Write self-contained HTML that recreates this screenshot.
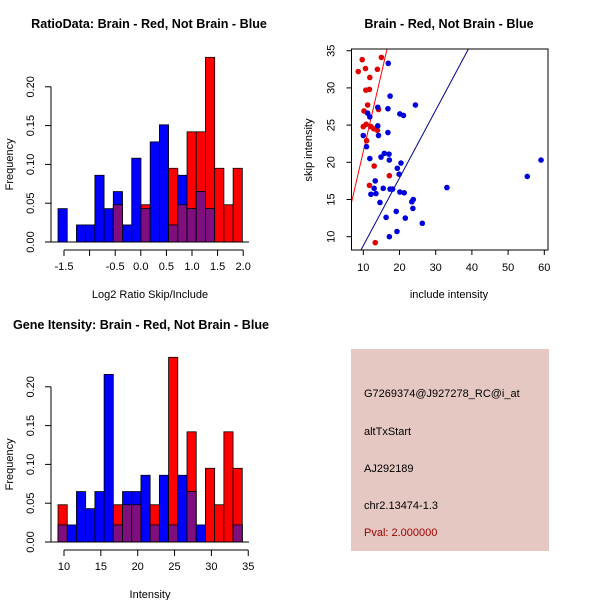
<!DOCTYPE html>
<html><head><meta charset="utf-8"><style>
body{margin:0;background:#fff}
svg{display:block;font-family:"Liberation Sans",Arial,sans-serif}
</style></head><body>
<svg id="s" width="600" height="600" viewBox="0 0 600 600" xmlns="http://www.w3.org/2000/svg">
<rect width="600" height="600" fill="#fff"/>
<text x="149" y="28" text-anchor="middle" font-size="12.6" font-weight="bold">RatioData: Brain - Red, Not Brain - Blue</text>
<text x="449" y="28" text-anchor="middle" font-size="12.6" font-weight="bold">Brain - Red, Not Brain - Blue</text>
<text x="141" y="329" text-anchor="middle" font-size="12.6" font-weight="bold">Gene Itensity: Brain - Red, Not Brain - Blue</text>
<g>
<rect x="351" y="349" width="198" height="202" fill="#e5c8c2"/>
<text x="364" y="397" font-size="11">G7269374@J927278_RC@i_at</text>
<text x="364" y="435" font-size="11">altTxStart</text>
<text x="364" y="472" font-size="11">AJ292189</text>
<text x="364" y="509" font-size="11">chr2.13474-1.3</text>
<text x="364" y="536" font-size="11" fill="#a00000">Pval: 2.000000</text>
</g>
</svg>
<script>
// Ratio histogram data
const ratioBlue=[.043,0,.022,.022,.086,.043,.065,.022,.108,.043,.129,.151,.022,.086,.043,.065,.043,0,0,0];
const ratioRed=[0,0,0,0,0,0,.048,0,0,.048,0,0,.095,.048,.142,.142,.238,.095,.048,.095];
const ratioBreakStart=-1.617, ratioBinWidth=0.18;
const ratioTicks=[-1.5,-1.0,-0.5,0,0.5,1.0,1.5,2.0];
const ratioTickLabels=["-1.5","","-0.5","0.0","0.5","1.0","1.5","2.0"];
// Intensity histogram data
const intBlue=[.022,.022,.065,.043,.065,.216,.022,.065,.065,.086,.022,.086,.022,.086,.065,.022,0,0,0,.022];
const intRed=[.048,0,0,0,0,0,.048,.048,.048,0,.048,0,.238,0,.142,0,.095,.048,.142,.095];
const intBreakStart=9.19, intBinWidth=1.25;
const intTicks=[10,15,20,25,30,35];
const freqTicks=[0,0.05,0.10,0.15,0.20];
const freqTickLabels=["0.00","0.05","0.10","0.15","0.20"];
// Scatter data
const redX=[9.7,8.6,10.6,15.0,11.8,13.9,10.7,11.7,11.2,10.2,14.2,10.8,10.0,12.1,12.9,13.9,10.9,13.0,11.7,17.2,13.3];
const redY=[33.8,32.2,32.6,34.1,31.4,32.5,29.7,29.8,27.7,26.9,27.1,25.1,24.8,24.8,24.5,24.3,22.9,19.5,16.9,18.2,9.2];
const blueX=[16.9,17.4,24.4,16.8,14.0,20.1,21.1,11.2,11.8,14.0,16.8,10.0,14.2,10.9,11.8,14.9,15.8,17.1,17.2,20.4,19.4,19.9,13.3,15.5,13.0,17.4,18.1,12.1,13.5,20.1,21.3,33.1,14.6,23.8,23.4,23.7,19.1,16.3,21.6,26.3,19.3,17.2,55.3,59.1];
const blueY=[33.3,28.9,27.7,27.2,27.4,26.5,26.3,26.6,26.1,24.9,24.0,23.6,23.6,22.1,20.5,20.7,21.2,21.1,20.3,19.9,19.2,18.4,17.5,16.5,16.5,16.4,16.4,15.7,15.8,16.0,15.9,16.6,14.6,15.0,14.7,13.8,13.4,12.6,12.5,11.8,10.7,10.0,18.1,20.3];
const redFit=[0.45,2.1], blueFit=[-0.3,0.91];
const scXTicks=[10,20,30,40,50,60], scYTicks=[10,15,20,25,30,35];

const svg=document.getElementById('s');
const NS='http://www.w3.org/2000/svg';
function mk(tag,attrs,parent){const e=document.createElementNS(NS,tag);for(const k in attrs)e.setAttribute(k,attrs[k]);(parent||svg).appendChild(e);return e;}

function hist(blue,red,start,bw,xTicks,xLabels,xFn,y0,xTitle,name){
  const g=mk('g',{});
  
  
  const yFn=v=>y0-v*776;
  for(let i=0;i<blue.length;i++){
    const x1=xFn(start+i*bw), x2=xFn(start+(i+1)*bw);
    const r=red[i], b=blue[i];
    if(r>0){const e=mk('rect',{x:x1,y:yFn(r),width:x2-x1,height:r*776,fill:'#ff0000',stroke:'#000','stroke-width':0.8},g);
      
      }
    if(b>0){const e=mk('rect',{x:x1,y:yFn(b),width:x2-x1,height:b*776,fill:'#0000ff',stroke:'#000','stroke-width':0.8},g);
      
      }
    const m=Math.min(r,b);
    if(m>0){const e=mk('rect',{x:x1,y:yFn(m),width:x2-x1,height:m*776,fill:'#7f0f7f',stroke:'#000','stroke-width':0.8},g);
      
      }
  }
  const ya=mk('g',{},g);
  
  
  mk('line',{x1:51,x2:51,y1:yFn(0),y2:yFn(0.2),stroke:'#000'},ya);
  freqTicks.forEach((t,i)=>{const y=yFn(t);mk('line',{x1:45,x2:51,y1:y,y2:y,stroke:'#000'},ya);
    const tx=mk('text',{x:0,y:0,'font-size':11,'text-anchor':'middle',transform:`translate(34,${y}) rotate(-90)`},ya);tx.textContent=freqTickLabels[i];});
  const yt=mk('text',{x:0,y:0,'font-size':11,'text-anchor':'middle',transform:`translate(13,${yFn(0.1)}) rotate(-90)`},g);
  yt.textContent='Frequency';
  
  
  mk('line',{x1:51,x2:249,y1:y0,y2:y0,stroke:'#000'},g);
  const xa=mk('g',{},g);
  
  
  const ay=y0+8;
  mk('line',{x1:xFn(xTicks[0]),x2:xFn(xTicks[xTicks.length-1]),y1:ay,y2:ay,stroke:'#000'},xa);
  xTicks.forEach((t,i)=>{const x=xFn(t);mk('line',{x1:x,x2:x,y1:ay,y2:ay+6,stroke:'#000'},xa);
    const tx=mk('text',{x:x,y:ay+20,'font-size':11,'text-anchor':'middle'},xa);tx.textContent=xLabels[i];});
  const xt=mk('text',{x:150,y:y0+56,'font-size':11,'text-anchor':'middle'},g);
  xt.textContent=xTitle;
  
  
}
hist(ratioBlue,ratioRed,ratioBreakStart,ratioBinWidth,ratioTicks,ratioTickLabels,v=>64+(v+1.5)*51.2,242,'Log2 Ratio Skip/Include','ratio-histogram');
hist(intBlue,intRed,intBreakStart,intBinWidth,intTicks,intTicks.map(String),v=>64+(v-10)*7.37,542,'Intensity','intensity-histogram');

const sg=mk('g',{});


const sx=v=>363.3+(v-10)*3.62, sy=v=>236.7-(v-10)*7.44;
const L=351.5,R=548,T=49,B=250;
mk('clipPath',{id:'cp'},sg).appendChild((()=>{const r=document.createElementNS(NS,'rect');r.setAttribute('x',L);r.setAttribute('y',T);r.setAttribute('width',R-L);r.setAttribute('height',B-T);return r;})());
[[redFit,'#ff0000','red-fit-line'],[blueFit,'#00008b','blue-fit-line']].forEach(([f,c,n])=>{
  const xa=0,xb=80;
  const l=mk('line',{x1:sx(xa),y1:sy(f[0]+f[1]*xa),x2:sx(xb),y2:sy(f[0]+f[1]*xb),stroke:c,'stroke-width':1,'clip-path':'url(#cp)'},sg);
  
  
});
redX.forEach((x,i)=>{const c=mk('circle',{cx:sx(x),cy:sy(redY[i]),r:2.8,fill:'#e00000'},sg);
  
  });
blueX.forEach((x,i)=>{const c=mk('circle',{cx:sx(x),cy:sy(blueY[i]),r:2.8,fill:'#0000dd'},sg);
  
  });
mk('rect',{x:L,y:T,width:R-L,height:B-T,fill:'none',stroke:'#000'},sg);
scXTicks.forEach(t=>{const x=sx(t);mk('line',{x1:x,x2:x,y1:B,y2:B+5,stroke:'#000'},sg);
  const tx=mk('text',{x:x,y:B+21,'font-size':11,'text-anchor':'middle'},sg);tx.textContent=t;});
scYTicks.forEach(t=>{const y=sy(t);mk('line',{x1:L-5,x2:L,y1:y,y2:y,stroke:'#000'},sg);
  const tx=mk('text',{x:0,y:0,'font-size':11,'text-anchor':'middle',transform:`translate(${L-17},${y}) rotate(-90)`},sg);tx.textContent=t;});
const sxt=mk('text',{x:449,y:298,'font-size':11,'text-anchor':'middle'},sg);
sxt.textContent='include intensity';


const syt=mk('text',{x:0,y:0,'font-size':11,'text-anchor':'middle',transform:`translate(312,150) rotate(-90)`},sg);
syt.textContent='skip intensity';


</script>
</body></html>
